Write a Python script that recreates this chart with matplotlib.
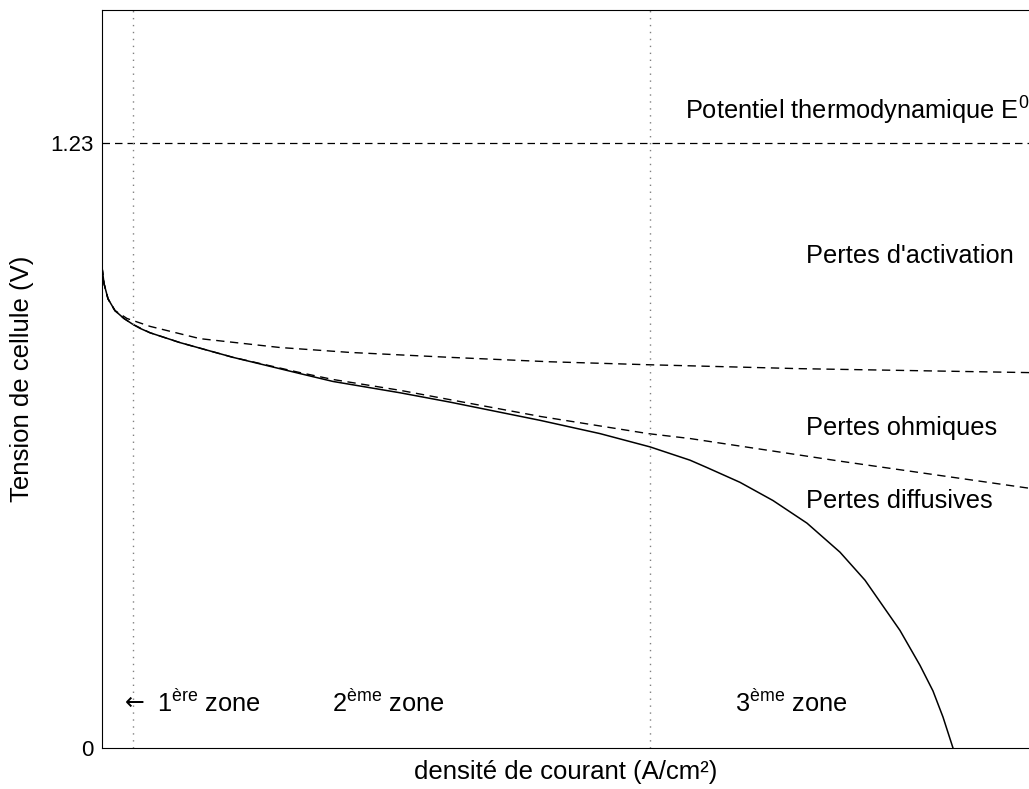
import matplotlib
matplotlib.use("Agg")
import matplotlib.pyplot as plt

plt.rcParams['font.family'] = ['Liberation Sans', 'DejaVu Sans']
plt.rcParams['mathtext.fontset'] = 'custom'
plt.rcParams['mathtext.rm'] = 'Liberation Sans'
plt.rcParams['mathtext.it'] = 'Liberation Sans'

# Cell voltage (solid curve)
i_cell = [0, 0.0022, 0.0065, 0.014, 0.0237, 0.0334, 0.0410, 0.0518, 0.0680, 0.0841,
          0.1413, 0.2136, 0.2492, 0.3215, 0.3754, 0.4725, 0.5372, 0.5912, 0.6343,
          0.6526, 0.6882, 0.7238, 0.7605, 0.7961, 0.8231, 0.8608, 0.8824, 0.8964,
          0.9072, 0.918]
v_cell = [0.978, 0.944, 0.913, 0.889, 0.873, 0.861, 0.853, 0.844, 0.834, 0.824,
          0.794, 0.761, 0.745, 0.722, 0.703, 0.666, 0.639, 0.612, 0.585,
          0.570, 0.540, 0.503, 0.457, 0.398, 0.341, 0.239, 0.168, 0.116,
          0.063, 0.0]

# Activation losses only (upper dashed)
i_act = [0, 0.0022, 0.0065, 0.014, 0.027, 0.0518, 0.1057, 0.192, 0.2675, 0.3754,
         0.4833, 0.589, 0.753, 1.0]
v_act = [0.978, 0.944, 0.913, 0.889, 0.873, 0.857, 0.832, 0.814, 0.804, 0.794,
         0.785, 0.779, 0.771, 0.763]

# Activation + ohmic losses (lower dashed)
i_ohm = [0, 0.0022, 0.0065, 0.014, 0.0237, 0.0334, 0.0518, 0.0841, 0.1413, 0.2136,
         0.2492, 0.3215, 0.3754, 0.4725, 0.589, 0.6343, 0.7961, 1.0]
v_ohm = [0.978, 0.944, 0.913, 0.889, 0.873, 0.861, 0.844, 0.824, 0.794, 0.763,
         0.749, 0.727, 0.708, 0.674, 0.639, 0.629, 0.583, 0.528]

E0 = 1.23
zone_limits = [0.0334, 0.5912]

fig = plt.figure(figsize=(10.29, 7.89), dpi=100)
ax = fig.add_axes([0.0991, 0.052, 0.9009, 0.9353])

ax.plot(i_cell, v_cell, color='black', lw=1.1)
ax.plot(i_act, v_act, color='black', lw=1.0, ls=(0, (6, 4)))
ax.plot(i_ohm, v_ohm, color='black', lw=1.0, ls=(0, (6, 4)))
ax.axhline(E0, color='black', lw=0.9, ls=(0, (6, 4)))
for xz in zone_limits:
    ax.axvline(xz, color='gray', lw=1.0, ls=(0, (1, 4)))

ax.set_xlim(0, 1.0)
ax.set_ylim(0, 1.5)
ax.set_yticks([0, E0])
ax.set_yticklabels(['0', '1.23'])
ax.set_xticks([])
ax.tick_params(axis='y', direction='in', length=0, labelsize=16, pad=6)
ax.spines['right'].set_visible(False)

ax.set_xlabel('densité de courant (A/cm²)', fontsize=18.5, labelpad=9)
ax.set_ylabel('Tension de cellule (V)', fontsize=18.5, labelpad=12)

fs = 18.3
ax.text(0.629, 1.295, r'Potentiel thermodynamique E$^{0}$', fontsize=fs, va='center')
ax.text(0.759, 1.0, "Pertes d'activation", fontsize=fs, va='center')
ax.text(0.759, 0.65, 'Pertes ohmiques', fontsize=fs, va='center')
ax.text(0.759, 0.502, 'Pertes diffusives', fontsize=fs, va='center')
ax.text(0.025, 0.092, '←', fontsize=17, va='center', family='DejaVu Sans')
ax.text(0.059, 0.09, r'1$^{\mathrm{ère}}$ zone', fontsize=fs, va='center')
ax.text(0.248, 0.09, r'2$^{\mathrm{ème}}$ zone', fontsize=fs, va='center')
ax.text(0.683, 0.09, r'3$^{\mathrm{ème}}$ zone', fontsize=fs, va='center')

fig.savefig('out.png', dpi=100)
